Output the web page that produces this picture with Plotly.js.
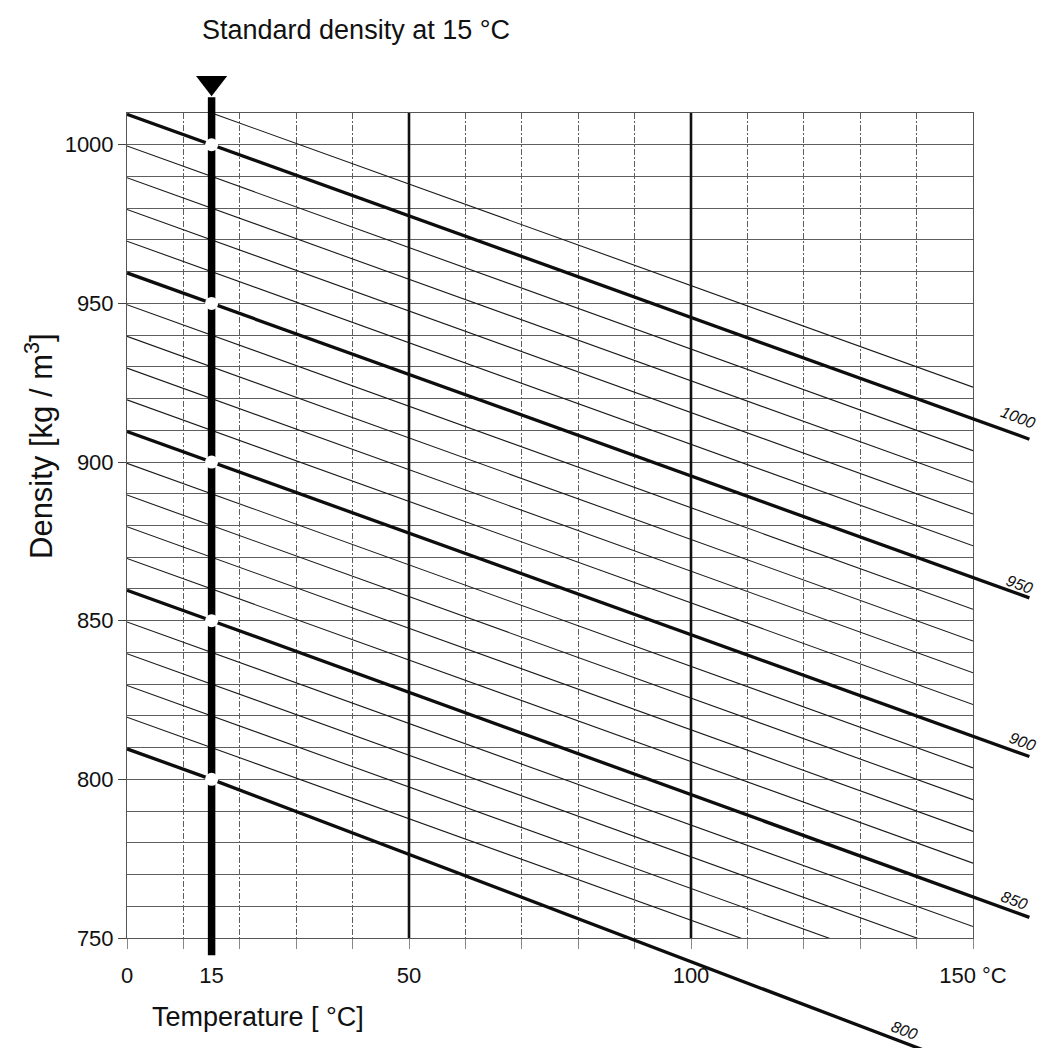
<!DOCTYPE html>
<html>
<head>
<meta charset="utf-8">
<script src="https://cdn.plot.ly/plotly-3.0.1.min.js"></script>
<style>html,body{margin:0;padding:0;background:#fff;}#chart{width:1056px;height:1048px;}</style>
</head>
<body>
<div id="chart"></div>
<script>
// ---------------- data ----------------
// Temperature points (°C) used for every density line
const tempPoints = [0, 15, 160];          // bold lines run past the grid
const tempPointsThin = [0, 15, 150];      // thin lines stop at the grid edge

// Bold lines: standard density at 15 °C, value at 0 °C, value at 160 °C
const boldDensity15 = [1000, 950, 900, 850, 800];
const boldAt0      = [1009.6, 959.6, 909.6, 859.6, 809.6];
const boldAt160    = [907.2, 857.2, 807.2, 756.5, 702.0];

// Thin lines (every 10 kg/m³): density at 15 °C, at 0 °C, at 150 °C
const thinDensity15 = [1010, 990, 980, 970, 960, 940, 930, 920, 910, 890, 880, 870, 860, 840, 830, 820, 810];
const thinAt0       = [1019.6, 999.6, 989.6, 979.6, 969.6, 949.6, 939.6, 929.6, 919.6, 899.6, 889.6, 879.6, 869.6, 849.6, 839.6, 829.6, 819.6];
const thinAt150     = [923.6, 903.6, 893.6, 883.6, 873.6, 853.6, 843.6, 833.6, 823.6, 803.6, 793.6, 783.6, 773.6, 753.6, 743.6, 733.6, 723.6];

// Vertical reference lines
const boldTemps = [50, 100];
const standardTemp = 15;
const standardLineY = [744.6, 1015];
const arrowY = 1019.5;

// Axis ticks
const tempTickVals = [0, 15, 50, 100, 150];
const tempTickText = ['0', '15', '50', '100', '150 °C'];
const densityTickVals = [750, 800, 850, 900, 950, 1000];
const xRange = [0, 150];
const yRange = [750, 1010];

// Labels at the end of the bold lines (position in °C, kg/m³)
const labelTemp = [158.0, 158.3, 158.7, 157.4, 137.9];
const labelDens = [913.9, 861.3, 811.8, 761.9, 720.9];

// ---------------- geometry ----------------
const W = 1056, H = 1048;
const P = {left: 127, right: 973, top: 113, bottom: 938};
const O = {right: 1050, top: 50, bottom: 1048};
const xs = (P.right - P.left) / (xRange[1] - xRange[0]);
const ys = (P.bottom - P.top) / (yRange[1] - yRange[0]);
const x2Range = [xRange[0], xRange[0] + (O.right - P.left) / xs];
const y2Range = [yRange[0] - (O.bottom - P.bottom) / ys, yRange[1] + (P.top - O.top) / ys];

const FONT = 'Liberation Sans, Arial, sans-serif';
const traces = [];

// thin lines (clipped to grid)
thinDensity15.forEach((d, i) => {
  traces.push({
    x: tempPointsThin, y: [thinAt0[i], d, thinAt150[i]],
    mode: 'lines', line: {color: '#1a1a1a', width: 1.1},
    xaxis: 'x', yaxis: 'y', hoverinfo: 'skip', showlegend: false
  });
});
// bold vertical lines at 50 and 100
boldTemps.forEach(t => {
  traces.push({
    x: [t, t], y: yRange, mode: 'lines', line: {color: '#111', width: 2.6},
    xaxis: 'x', yaxis: 'y', hoverinfo: 'skip', showlegend: false
  });
});
// bold density lines (overlay subplot so they run past the grid)
boldDensity15.forEach((d, i) => {
  traces.push({
    x: tempPoints, y: [boldAt0[i], d, boldAt160[i]],
    mode: 'lines', line: {color: '#0d0d0d', width: 3.3},
    xaxis: 'x2', yaxis: 'y2', hoverinfo: 'skip', showlegend: false
  });
});
// standard-density vertical line at 15 °C
traces.push({
  x: [standardTemp, standardTemp], y: standardLineY, mode: 'lines',
  line: {color: '#000', width: 7.5}, xaxis: 'x2', yaxis: 'y2', hoverinfo: 'skip', showlegend: false
});
// arrow head
traces.push({
  x: [standardTemp], y: [arrowY], mode: 'markers',
  marker: {symbol: 'triangle-down', size: 27, color: '#000'},
  xaxis: 'x2', yaxis: 'y2', hoverinfo: 'skip', showlegend: false
});
// white dots at the standard densities
traces.push({
  x: boldDensity15.map(() => standardTemp), y: boldDensity15, mode: 'markers',
  marker: {symbol: 'circle', size: 13, color: '#fff', line: {width: 0}},
  xaxis: 'x2', yaxis: 'y2', hoverinfo: 'skip', showlegend: false
});

const annotations = boldDensity15.map((d, i) => ({
  text: String(d), x: labelTemp[i], y: labelDens[i], xref: 'x2', yref: 'y2',
  showarrow: false, textangle: 21, font: {family: FONT, size: 16, color: '#111', style: 'italic'}
}));
annotations.push({
  text: 'Temperature [ °C]', xref: 'paper', yref: 'paper',
  x: 258 / W, y: 1 - 1017 / H, xanchor: 'center', yanchor: 'middle',
  showarrow: false, font: {family: FONT, size: 27, color: '#111'}
});
annotations.push({
  text: 'Density [kg / m<sup>3</sup>]', xref: 'paper', yref: 'paper',
  x: 39 / W, y: 1 - 446 / H, xanchor: 'center', yanchor: 'middle', textangle: -90,
  showarrow: false, font: {family: FONT, size: 31, color: '#111'}
});

const layout = {
  width: W, height: H,
  margin: {l: 0, r: 0, t: 0, b: 0},
  paper_bgcolor: '#fff', plot_bgcolor: 'rgba(0,0,0,0)',
  font: {family: FONT, color: '#111'},
  title: {
    text: 'Standard density at 15 °C', x: 356 / W, xanchor: 'center',
    y: 1 - 30 / H, yanchor: 'middle', xref: 'container', yref: 'container',
    font: {family: FONT, size: 27, color: '#111'}
  },
  showlegend: false,
  xaxis: {
    domain: [P.left / W, P.right / W], range: xRange, anchor: 'y',
    tickmode: 'array', tickvals: tempTickVals, ticktext: tempTickText,
    ticks: '', showgrid: false, zeroline: false,
    tickfont: {family: FONT, size: 22, color: '#111'}, ticklabelstandoff: 18,
    showline: true, mirror: true, linecolor: '#555', linewidth: 1,
    minor: {dtick: 10, tick0: 0, showgrid: true, gridcolor: '#5e5e5e', gridwidth: 1,
            griddash: '6px,2px,2px,2px', ticks: 'outside', ticklen: 10, tickcolor: '#888', tickwidth: 1},
    automargin: false, fixedrange: true
  },
  yaxis: {
    domain: [1 - P.bottom / H, 1 - P.top / H], range: yRange, anchor: 'x',
    tickmode: 'array', tickvals: densityTickVals,
    ticks: 'outside', ticklen: 8, tickcolor: '#444', tickwidth: 1,
    showgrid: true, gridcolor: '#5e5e5e', gridwidth: 1, zeroline: false,
    tickfont: {family: FONT, size: 22, color: '#111'},
    showline: true, mirror: true, linecolor: '#555', linewidth: 1,
    minor: {dtick: 10, tick0: 750, showgrid: true, gridcolor: '#5e5e5e', gridwidth: 1},
    automargin: false, fixedrange: true
  },
  xaxis2: {
    domain: [P.left / W, O.right / W], range: x2Range, anchor: 'y2',
    visible: false, showgrid: false, zeroline: false, fixedrange: true
  },
  yaxis2: {
    domain: [1 - O.bottom / H, 1 - O.top / H], range: y2Range, anchor: 'x2',
    visible: false, showgrid: false, zeroline: false, fixedrange: true
  },
  annotations: annotations
};

Plotly.newPlot('chart', traces, layout, {displayModeBar: false, staticPlot: true});
</script>
</body>
</html>
